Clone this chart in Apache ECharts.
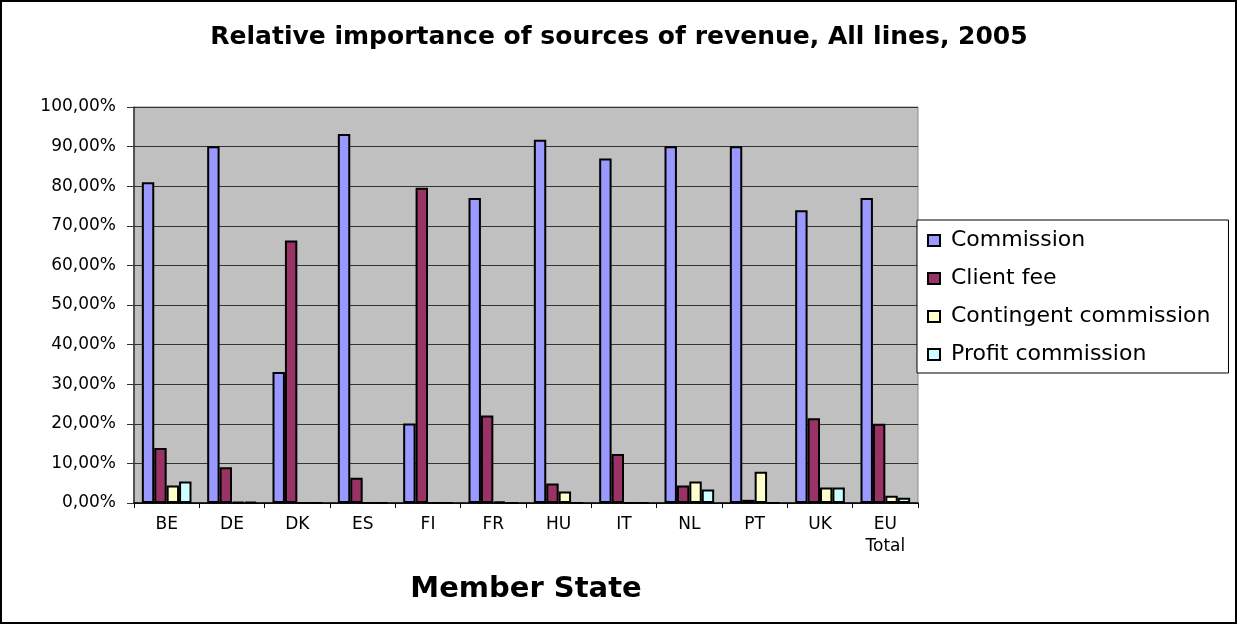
<!DOCTYPE html>
<html>
<head>
<meta charset="utf-8">
<script src="https://cdn.jsdelivr.net/npm/echarts@6/dist/echarts.min.js"></script>
<style>
html,body{margin:0;padding:0;background:#fff;}
#chart{width:1238px;height:626px;}
</style>
</head>
<body>
<div id="chart"></div>
<script>
const categories = ['BE','DE','DK','ES','FI','FR','HU','IT','NL','PT','UK','EU\nTotal'];
const commission = [81.0, 90.1, 33.1, 93.2, 20.1, 77.0, 91.7, 87.0, 90.1, 90.1, 73.9, 77.0];
const clientFee = [13.9, 9.0, 66.3, 6.4, 79.6, 22.1, 4.9, 12.4, 4.4, 0.8, 21.4, 20.0];
const contingentCommission = [4.4, 0.3, 0, 0, 0, 0.4, 2.9, 0, 5.4, 7.9, 3.9, 1.8];
const profitCommission = [5.4, 0.3, 0, 0, 0, 0, 0, 0, 3.4, 0, 3.9, 1.3];
const seriesNames = ['Commission','Client fee','Contingent commission','Profit commission'];
const seriesColors = ['#9999FF','#993366','#FFFFCC','#CCFFFF'];
const seriesData = [commission, clientFee, contingentCommission, profitCommission];

const chart = echarts.init(document.getElementById('chart'));
const option = {
  backgroundColor: '#ffffff',
  animation: false,
  title: {
    text: 'Relative importance of sources of revenue, All lines, 2005',
    left: 'center',
    top: 20,
    textStyle: {fontFamily: 'DejaVu Sans', fontWeight: 'bold', fontSize: 25, color: '#000'}
  },
  legend: {
    orient: 'vertical',
    left: 917,
    top: 220,
    padding: [8, 18, 6, 10],
    itemGap: 13,
    itemWidth: 12,
    itemHeight: 11,
    icon: 'rect',
    backgroundColor: '#fff',
    borderColor: '#000',
    borderWidth: 1,
    borderRadius: 0,
    textStyle: {fontFamily: 'DejaVu Sans', fontSize: 22, color: '#000', lineHeight: 25, padding: [0,0,0,6]},
    data: seriesNames
  },
  grid: {
    left: 134, top: 107, right: 320, bottom: 123,
    show: true, backgroundColor: '#C0C0C0', borderColor: '#8a8a8a', borderWidth: 1
  },
  xAxis: {
    type: 'category',
    data: categories,
    name: 'Member State',
    nameLocation: 'middle',
    nameGap: 72,
    nameTextStyle: {fontFamily: 'DejaVu Sans', fontWeight: 'bold', fontSize: 29, color: '#000'},
    axisLine: {lineStyle: {color: '#000', width: 1.5}},
    axisTick: {show: true, length: 5, lineStyle: {color: '#000'}},
    axisLabel: {fontFamily: 'DejaVu Sans', fontSize: 17, color: '#000', margin: 11, lineHeight: 22, interval: 0}
  },
  yAxis: {
    type: 'value',
    min: 0, max: 100, interval: 10,
    axisLine: {show: true, lineStyle: {color: '#333', width: 1.5}},
    axisTick: {show: true, length: 7, lineStyle: {color: '#333'}},
    axisLabel: {
      fontFamily: 'DejaVu Sans', fontSize: 17, color: '#000', margin: 18,
      formatter: v => v.toFixed(2).replace('.', ',') + '%'
    },
    splitLine: {show: true, lineStyle: {color: '#333', width: 1}}
  },
  series: seriesNames.map((name, i) => ({
    name: name,
    type: 'bar',
    data: seriesData[i],
    barGap: '0%',
    barCategoryGap: '24%',
    itemStyle: {color: seriesColors[i], borderColor: '#000', borderWidth: 2}
  })),
  graphic: [{
    type: 'rect',
    shape: {x: 1, y: 1, width: 1235, height: 622},
    style: {fill: 'none', stroke: '#000', lineWidth: 2},
    silent: true
  }]
};
chart.setOption(option);
</script>
</body>
</html>
